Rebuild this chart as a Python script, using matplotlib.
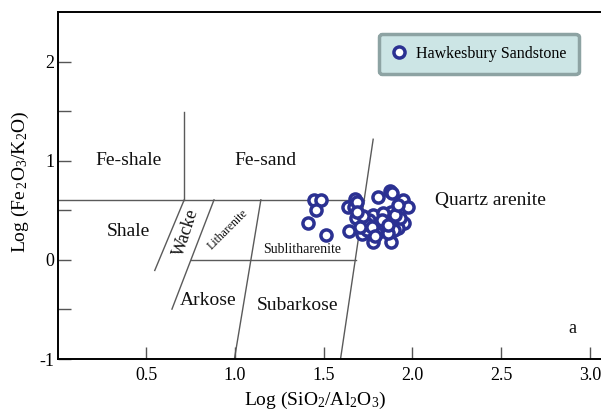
import numpy as np
import matplotlib
matplotlib.use("Agg")
import matplotlib.pyplot as plt

plt.rcParams['font.family'] = ['Liberation Serif', 'DejaVu Serif']
plt.rcParams['mathtext.fontset'] = 'custom'
plt.rcParams['mathtext.rm'] = 'Liberation Serif'
plt.rcParams['mathtext.it'] = 'Liberation Serif:italic'

# Hawkesbury Sandstone samples (log SiO2/Al2O3, log Fe2O3/K2O)
sio2_al2o3 = [1.445, 1.484, 1.455, 1.410, 1.513,
              1.677, 1.638, 1.671, 1.681, 1.645, 1.714, 1.742, 1.779, 1.779,
              1.807, 1.876, 1.887, 1.945, 1.973, 1.880, 1.850, 1.951, 1.919,
              1.880, 1.843, 1.811, 1.757, 1.746, 1.703, 1.800, 1.897, 1.865,
              1.833, 1.686, 1.929, 1.720, 1.770, 1.830, 1.860, 1.900, 1.690,
              1.790, 1.920]
fe2o3_k2o = [0.605, 0.600, 0.500, 0.376, 0.250,
             0.611, 0.531, 0.531, 0.420, 0.292, 0.259, 0.302, 0.453, 0.175,
             0.638, 0.699, 0.672, 0.605, 0.531, 0.487, 0.420, 0.376, 0.319,
             0.175, 0.296, 0.363, 0.403, 0.363, 0.336, 0.270, 0.300, 0.270,
             0.470, 0.588, 0.420, 0.440, 0.330, 0.400, 0.350, 0.450, 0.480,
             0.240, 0.550]

# Herron (1988) field boundaries, as [x0, x1], [y0, y1]
boundaries = [
    ([0.0, 1.728], [0.605, 0.605]),
    ([0.714, 0.714], [0.605, 1.495]),
    ([1.595, 1.779], [-1.0, 1.216]),
    ([0.714, 0.548], [0.605, -0.107]),
    ([0.882, 0.645], [0.605, -0.497]),
    ([1.146, 0.997], [0.605, -1.0]),
    ([0.753, 1.680], [0.0, 0.0]),
]

# field name, x, y, size, rotation
fields = [
    ("Fe-shale", 0.40, 1.00, 14, 0),
    ("Fe-sand", 1.174, 1.00, 14, 0),
    ("Shale", 0.40, 0.29, 14, 0),
    ("Wacke", 0.725, 0.28, 13, 72),
    ("Litharenite", 0.962, 0.31, 8.5, 45),
    ("Sublitharenite", 1.379, 0.10, 10, 0),
    ("Arkose", 0.85, -0.41, 14, 0),
    ("Subarkose", 1.353, -0.46, 14, 0),
    ("Quartz arenite", 2.44, 0.595, 14, 0),
    ("a", 2.90, -0.69, 13, 0),
]

fig = plt.figure(figsize=(6.01, 4.11), dpi=100)
ax = fig.add_axes([0.0957, 0.1265, 0.9043, 0.8445])

for xs, ys in boundaries:
    ax.plot(xs, ys, color='#5a5a5a', lw=1.0, zorder=1)

for name, x, y, size, rot in fields:
    ax.text(x, y, name, fontsize=size, rotation=rot, ha='center', va='center', color='#111111')

ax.plot(sio2_al2o3, fe2o3_k2o, 'o', ls='none', ms=8, mew=2.5, mec='#2b3192', mfc='white',
        label='Hawkesbury Sandstone', zorder=3)

ax.set_xlim(0, 3.063)
ax.set_ylim(-1, 2.5)
ax.set_xticks([0.5, 1.0, 1.5, 2.0, 2.5, 3.0])
ax.set_xticklabels(['0.5', '1.0', '1.5', '2.0', '2.5', '3.0'])
ax.set_yticks([-1, 0, 1, 2])
ax.set_yticklabels(['-1', '0', '1', '2'])
ax.set_yticks([-0.5, 0.5, 1.5], minor=True)
ax.tick_params(axis='both', which='major', direction='in', length=9, width=1, color='#555555',
               labelsize=13, pad=3)
ax.tick_params(axis='y', which='minor', direction='in', length=9, width=1, color='#555555')
ax.tick_params(axis='x', which='major', pad=6)
ax.tick_params(axis='y', which='major', pad=2)

ax.spines['right'].set_visible(False)
for side in ['left', 'bottom', 'top']:
    ax.spines[side].set_linewidth(1.4)

ax.text(0.474, -0.118, r'Log (SiO$_2$/Al$_2$O$_3$)', transform=ax.transAxes, fontsize=14,
        ha='center', va='center')
ax.text(-0.068, 0.51, r'Log (Fe$\,_2$O$_3$/K$_2$O)', transform=ax.transAxes, fontsize=14,
        ha='center', va='center', rotation=90)

leg = ax.legend(loc='upper left', bbox_to_anchor=(0.591, 0.937), fontsize=11.5, frameon=True,
                fancybox=True, handletextpad=0.6, borderpad=0.75, handlelength=1.0,
                borderaxespad=0, markerscale=1.0)
frame = leg.get_frame()
frame.set_facecolor('#cce5e5')
frame.set_edgecolor('#8da3a3')
frame.set_linewidth(2.5)
frame.set_alpha(1)

fig.savefig('out.png', dpi=100)
